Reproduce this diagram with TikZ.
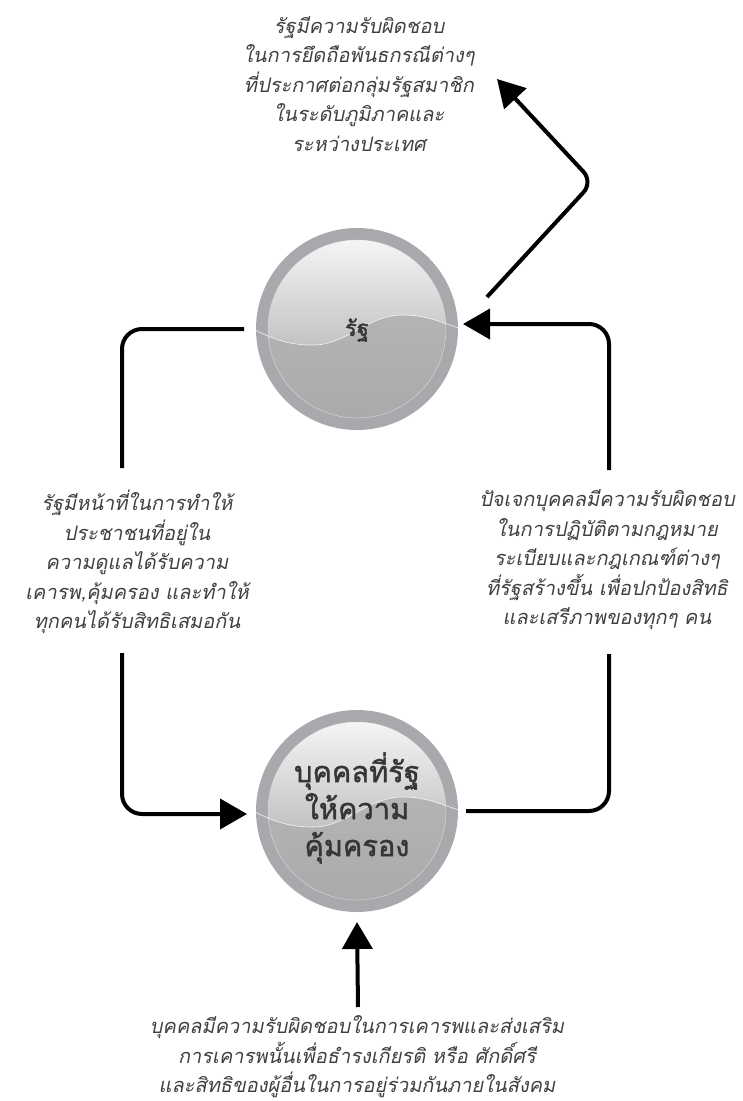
\documentclass[tikz,border=0pt]{standalone}
\usepackage{fontspec}
\usetikzlibrary{arrows.meta,calc}
\newfontfamily\thaiit[Script=Thai,FakeSlant=0.2]{Loma}
\newfontfamily\thaibf[Script=Thai,FakeBold=1.5]{Loma}
\definecolor{ringgray}{HTML}{A7A9AC}
\definecolor{lowgray}{HTML}{ADADAD}
\definecolor{txtgray}{HTML}{404040}
\definecolor{balltxt}{HTML}{363636}
\tikzset{
  conn/.style={line width=4pt, rounded corners=20pt, black},
  tip/.style={-{Triangle[length=27pt,width=30pt]}},
  ball/.style={circle, minimum size=190pt, inner sep=0pt, draw=ringgray, line width=12pt,
    top color=white!97!black, bottom color=white!62!black, shading angle=0},
  balltext/.style={text=balltxt, align=center},
  note/.style={text=txtgray, align=center, inner sep=0pt},
  wave/.pic={
    \begin{scope}
      \clip (0,0) circle (89);
      \fill[lowgray, opacity=0.8] (-102,1) .. controls (-80,12) and (-65,16) .. (-44,16)
        .. controls (-10,16) and (10,-14) .. (46,-14)
        .. controls (70,-14) and (85,-6) .. (102,-1) -- (102,110) -- (-102,110) -- cycle;
    \end{scope}
    \begin{scope}
      \clip (0,0) circle (101);
      \draw[white, line width=0.6pt, opacity=0.85] (-102,1) .. controls (-80,12) and (-65,16) .. (-44,16)
        .. controls (-10,16) and (10,-14) .. (46,-14)
        .. controls (70,-14) and (85,-6) .. (102,-1);
      \draw[white, line width=0.5pt, opacity=0.5] (0,0) circle (89);
    \end{scope}
  },
}
\begin{document}
\begin{tikzpicture}[x=1pt,y=-1pt]
\useasboundingbox (0,0) rectangle (743,1101);
\node[ball] (state) at (357,329) {};
\pic at (state.center) {wave};
\node[balltext, font=\thaibf\fontsize{22}{28}\selectfont] (statetext) at (357,330) {รัฐ};
\node[ball] (person) at (357,811) {};
\pic at (person.center) {wave};
\node[balltext, font=\thaibf\fontsize{29}{37}\selectfont] (persontext) at (357,808) {บุคคลที่รัฐ\\ให้ความ\\คุ้มครอง};

\node[note, font=\thaiit\fontsize{20}{29.5}\selectfont] (ttop) at (359,84)
  {รัฐมีความรับผิดชอบ\\ในการยึดถือพันธกรณีต่างๆ\\ที่ประกาศต่อกลุ่มรัฐสมาชิก\\ในระดับภูมิภาคและ\\ระหว่างประเทศ};
\node[note, font=\thaiit\fontsize{20}{29.5}\selectfont] (tleft) at (137,562)
  {รัฐมีหน้าที่ในการทำให้\\ประชาชนที่อยู่ใน\\ความดูแลได้รับความ\\เคารพ,คุ้มครอง และทำให้\\ทุกคนได้รับสิทธิเสมอกัน};
\node[note, font=\thaiit\fontsize{20}{29.5}\selectfont] (tright) at (607,560)
  {ปัจเจกบุคคลมีความรับผิดชอบ\\ในการปฏิบัติตามกฎหมาย\\ระเบียบและกฎเกณฑ์ต่างๆ\\ที่รัฐสร้างขึ้น เพื่อปกป้องสิทธิ\\และเสรีภาพของทุกๆ คน};
\node[note, font=\thaiit\fontsize{20}{29.5}\selectfont] (tbottom) at (357,1057)
  {บุคคลมีความรับผิดชอบในการเคารพและส่งเสริม\\การเคารพนั้นเพื่อธำรงเกียรติ หรือ ศักดิ์ศรี\\และสิทธิของผู้อื่นในการอยู่ร่วมกันภายในสังคม};

\coordinate (l1) at (122,468);
\coordinate (l2) at (122,653);
\coordinate (r1) at (609,654);
\coordinate (r2) at (609,470);
\coordinate (t0) at (487,297);
\coordinate (tc) at (593,182);
\coordinate (ttip) at (497,79);
\coordinate (b0) at (358,1007);

\draw[conn] ([xshift=-12pt]state.west) -| (l1);
\draw[conn, tip] (l2) |- ([xshift=-9pt,yshift=-3pt]person.west);
\draw[conn] ([xshift=8pt]person.east) -| (r1);
\draw[conn, tip] (r2) |- ([xshift=5pt,yshift=5pt]state.east);
\draw[conn, rounded corners=14pt, tip] (t0) -- (tc) -- (ttip);
\draw[conn, tip] (b0) -- ([yshift=-10pt]person.south);
\end{tikzpicture}
\end{document}
